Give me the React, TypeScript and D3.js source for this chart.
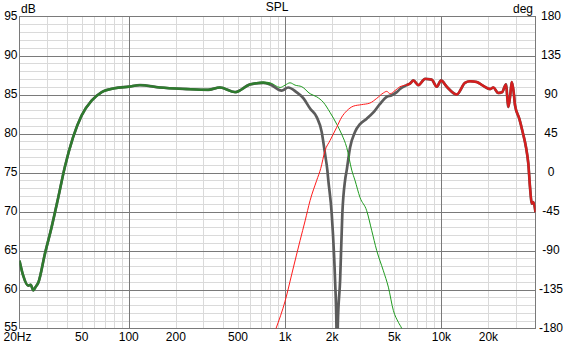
import React from 'react';
import * as d3 from 'd3';

// Summed response (thick gray)
const sumFreq = [20, 21.1, 22.7, 23.6, 24.5, 25.3, 26.4, 29.1, 32.1, 35.4, 39.0, 44.0, 49.9, 57.8, 67.1, 81, 100, 118, 158, 234, 322, 383, 479, 598, 726, 803, 950, 1048, 1182, 1312, 1445, 1594, 1715, 1801, 1864, 1891, 1988, 2088, 2130, 2150, 2175, 2250, 2324, 2420, 2480, 2605, 2800, 3015, 3328, 3670, 4048, 4470, 4810, 5180, 5435, 6000, 6300, 6620, 7125, 7860, 8670, 9340, 9950, 10820, 12530, 14160, 15250, 16830, 18550, 20480, 21500, 23050, 24440, 25900, 26800, 27600, 28200, 29000, 29600, 31500, 33100, 34800, 36000, 36900, 37900, 38800, 40000];
const sumDb = [63.7, 61.8, 60.5, 60.6, 59.9, 60.3, 60.9, 64.6, 68.0, 71.8, 75.7, 79.5, 82.3, 84.2, 85.3, 85.8, 86.0, 86.2, 85.9, 85.7, 85.6, 85.9, 85.3, 86.3, 86.5, 86.3, 85.5, 85.9, 85.3, 84.5, 83.2, 82.1, 80.2, 77.4, 75.3, 74.0, 69.7, 61.2, 55.5, 45, 55.5, 61.2, 69.7, 74.0, 75.3, 78.2, 80.2, 81.2, 81.9, 82.7, 83.8, 84.7, 84.9, 85.3, 85.7, 86.2, 86.4, 86.8, 86.2, 87.0, 86.9, 86.0, 86.8, 86.0, 85.0, 86.5, 86.7, 86.6, 86.1, 85.7, 85.9, 85.2, 85.3, 86.3, 83.4, 85.0, 86.6, 85.3, 83.6, 81.9, 80.2, 78.2, 76.1, 73.1, 71.0, 71.2, 69.9];

// Woofer (green)
const wooferFreq = [600, 726, 803, 930, 1000, 1076, 1159, 1279, 1445, 1594, 1757, 1940, 2140, 2303, 2480, 2670, 2800, 3015, 3328, 3580, 3857, 4254, 4580, 4930, 5305, 5575, 5800];
const wooferDb = [86.3, 86.6, 86.5, 85.9, 86.2, 86.5, 86.2, 86.0, 85.1, 84.7, 84.0, 82.7, 81.2, 79.9, 78.2, 75.3, 74.0, 71.8, 70.1, 67.6, 65.0, 62.4, 60.3, 57.3, 55.8, 55.0, 54.0];

// Tweeter (red)
const tweeterFreq = [820, 875, 1000, 1120, 1248, 1343, 1445, 1594, 1690, 1801, 1940, 2140, 2303, 2480, 2730, 3080, 3485, 3857, 4254, 4470, 4700, 5050, 5435, 5880, 6300];
const tweeterDb = [53.5, 55, 58.5, 62.5, 66.3, 68.8, 71.4, 74.0, 75.5, 77.8, 79.1, 80.8, 82.1, 82.9, 83.5, 83.7, 83.9, 84.5, 85.2, 85.4, 85.1, 85.5, 86.0, 86.2, 86.4];

const xTickVals = [20, 50, 100, 200, 500, 1000, 2000, 5000, 10000, 20000];
const xTickLabels = ['20Hz', '50', '100', '200', '500', '1k', '2k', '5k', '10k', '20k'];
const dbTicks = [55, 60, 65, 70, 75, 80, 85, 90, 95];
const degTicks = [-180, -135, -90, -45, 0, 45, 90, 135, 180];

export default function App() {
  const W = 565, H = 344;
  const L = 19.5, R = 535.5, T = 16.5, B = 328.5;
  const x = d3.scaleLog().domain([20, 40000]).range([L, R]);
  const y = d3.scaleLinear().domain([55, 95]).range([B, T]);
  const yDeg = d3.scaleLinear().domain([-180, 180]).range([B, T]);

  const minorX: number[] = [];
  const majorX = [100, 1000, 10000];
  [10, 100, 1000, 10000].forEach(d => {
    for (let m = 2; m <= 9; m++) {
      const f = m * d;
      if (f > 20 && f < 40000) minorX.push(f);
    }
  });
  const minorY: number[] = [];
  for (let v = 56; v < 95; v++) if (v % 5 !== 0) minorY.push(v);
  const majorY = [60, 65, 70, 75, 80, 85, 90];

  const toPts = (fs: number[], ds: number[]) => fs.map((f, i) => [f, ds[i]] as [number, number]);
  const line = d3.line<[number, number]>().x(d => x(d[0])).y(d => y(d[1])).curve(d3.curveMonotoneX);

  const sumPts = toPts(sumFreq, sumDb);
  const woofPts = toPts(wooferFreq, wooferDb);
  const tweetPts = toPts(tweeterFreq, tweeterDb);
  const greenThick = sumPts.filter(p => p[0] <= 803);
  const redThick = sumPts.filter(p => p[0] >= 6000);

  const font = '"Liberation Sans", Arial, sans-serif';
  const minorC = '#dadada', majorC = '#7a7a7a';

  return (
    <div style={{ position: 'fixed', left: 0, top: 0 }}>
      <svg width={W} height={H} style={{ display: 'block', background: '#fff' }} fontFamily={font} fontSize={12}>
        <defs>
          <clipPath id="plot"><rect x={L} y={T} width={R - L} height={B - T} /></clipPath>
        </defs>
        {minorX.map(f => <line key={'mx' + f} x1={Math.round(x(f)) + 0.5} x2={Math.round(x(f)) + 0.5} y1={T} y2={B} stroke={minorC} />)}
        {minorY.map(v => <line key={'my' + v} x1={L} x2={R} y1={Math.round(y(v)) + 0.5} y2={Math.round(y(v)) + 0.5} stroke={minorC} />)}
        {majorX.map(f => <line key={'Mx' + f} x1={Math.round(x(f)) + 0.5} x2={Math.round(x(f)) + 0.5} y1={T} y2={B} stroke={majorC} />)}
        {majorY.map(v => <line key={'My' + v} x1={L} x2={R} y1={Math.round(y(v)) + 0.5} y2={Math.round(y(v)) + 0.5} stroke={majorC} />)}
        <rect x={L} y={T} width={R - L} height={B - T} fill="none" stroke={majorC} />

        <g clipPath="url(#plot)" fill="none" strokeLinejoin="round" strokeLinecap="butt">
          <path d={line(sumPts) || ''} stroke="#5c5c5c" strokeWidth={2.7} />
          <path d={line(woofPts) || ''} stroke="#1f9a1f" strokeWidth={1} />
          <path d={line(tweetPts) || ''} stroke="#ff1a1a" strokeWidth={1} />
          <path d={line(greenThick) || ''} stroke="#2e7b2e" strokeWidth={2.4} />
          <path d={line(redThick) || ''} stroke="#d41e1e" strokeWidth={2.4} />
        </g>

        {dbTicks.map(v => <text key={'yl' + v} x={17.5} y={y(v) + (v === 55 ? 2.5 : 3.5)} textAnchor="end" fill="#000">{v}</text>)}
        {degTicks.map(v => <text key={'dl' + v} x={551} y={yDeg(v) + 3.5} textAnchor="middle" fill="#000">{v}</text>)}
        {xTickVals.map((f, i) => <text key={'xl' + f} x={i === 0 ? 17.5 : x(f)} y={341} textAnchor="middle" fill="#000">{xTickLabels[i]}</text>)}
        <text x={21} y={12.5} fill="#000">dB</text>
        <text x={533} y={12.5} textAnchor="end" fill="#000">deg</text>
        <text x={277} y={11} textAnchor="middle" fill="#000">SPL</text>
      </svg>
    </div>
  );
}
